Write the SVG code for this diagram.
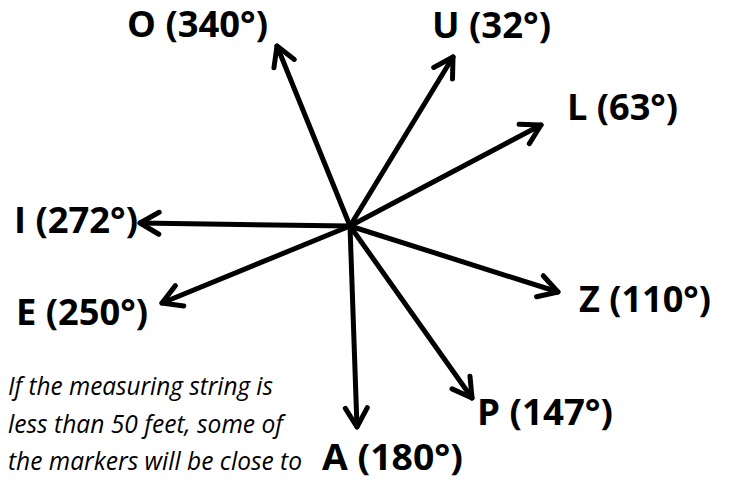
<svg xmlns="http://www.w3.org/2000/svg" width="730" height="483" viewBox="0 0 730 483">
  <style>
    .lbl { font-family: "Open Sans", "Liberation Sans", sans-serif; font-weight: bold; font-size: 36px; fill: #000; }
    .note { font-family: "Open Sans", "Liberation Sans", sans-serif; font-style: italic; font-size: 26px; fill: #000; }
    .arr { stroke: #000; stroke-width: 5; stroke-linecap: round; fill: none; marker-end: url(#ah); }
  </style>
  <defs>
    <marker id="ah" markerUnits="userSpaceOnUse" orient="auto" overflow="visible" refX="0" refY="0" markerWidth="1" markerHeight="1">
      <path d="M -19,-11 L 0,0 L -19,11" fill="none" stroke="#000" stroke-width="5" stroke-linecap="round" stroke-linejoin="round"/>
    </marker>
    <clipPath id="clipP">
      <rect x="470" y="399" width="160" height="45"/>
    </clipPath>
  </defs>
  <rect x="0" y="0" width="730" height="483" fill="#fff"/>
  <g id="connectors">
    <line class="arr" x1="350" y1="226" x2="277" y2="46"/>
    <line class="arr" x1="350" y1="226" x2="453" y2="57"/>
    <line class="arr" x1="350" y1="226" x2="541" y2="125"/>
    <line class="arr" x1="350" y1="226" x2="140" y2="223"/>
    <line class="arr" x1="350" y1="226" x2="162" y2="303"/>
    <line class="arr" x1="350" y1="226" x2="558" y2="292"/>
    <line class="arr" x1="350" y1="226" x2="472" y2="398"/>
    <line class="arr" x1="350" y1="226" x2="357" y2="427"/>
  </g>
  <g id="node-O"><text class="lbl" x="127" y="37" textLength="141" lengthAdjust="spacingAndGlyphs">O (340°)</text></g>
  <g id="node-U"><text class="lbl" x="432" y="38" textLength="119" lengthAdjust="spacingAndGlyphs">U (32°)</text></g>
  <g id="node-L"><text class="lbl" x="567" y="120" textLength="111" lengthAdjust="spacingAndGlyphs">L (63°)</text></g>
  <g id="node-I"><text class="lbl" x="14" y="233" textLength="124" lengthAdjust="spacingAndGlyphs">I (272°)</text></g>
  <g id="node-E"><text class="lbl" x="16" y="325" textLength="132" lengthAdjust="spacingAndGlyphs">E (250°)</text></g>
  <g id="node-Z"><text class="lbl" x="579" y="312" textLength="132" lengthAdjust="spacingAndGlyphs">Z (110°)</text></g>
  <g id="node-P" clip-path="url(#clipP)"><text class="lbl" x="477" y="425" textLength="136" lengthAdjust="spacingAndGlyphs">P (147°)</text></g>
  <g id="node-A"><text class="lbl" x="322" y="470" textLength="141" lengthAdjust="spacingAndGlyphs">A (180°)</text></g>
  <g id="note">
    <text class="note" x="8" y="395" textLength="265" lengthAdjust="spacingAndGlyphs">If the measuring string is</text>
    <text class="note" x="8" y="433" textLength="275" lengthAdjust="spacingAndGlyphs">less than 50 feet, some of</text>
    <text class="note" x="8" y="470" textLength="294" lengthAdjust="spacingAndGlyphs">the markers will be close to</text>
  </g>
</svg>
